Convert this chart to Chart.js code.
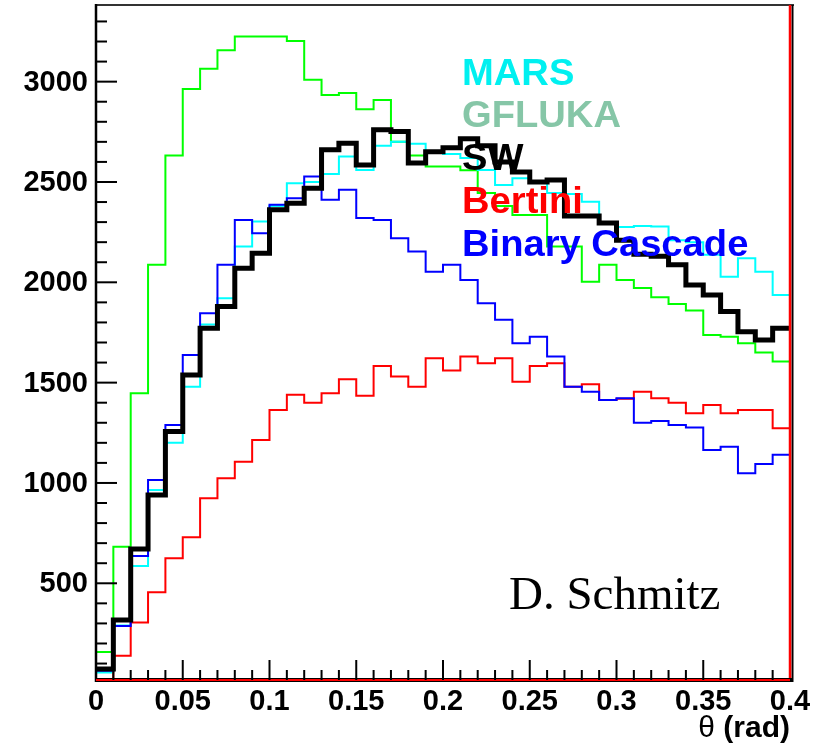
<!DOCTYPE html>
<html>
<head>
<meta charset="utf-8">
<script src="https://cdn.jsdelivr.net/npm/chart.js@4.4.1/dist/chart.umd.min.js"></script>
<style>
  html, body { margin: 0; padding: 0; background: #fff; }
</style>
</head>
<body>
<canvas id="theta" width="823" height="752"></canvas>
<script>
// bin low edges (rad), 40 bins of 0.01
var binLow = [0.00, 0.01, 0.02, 0.03, 0.04, 0.05, 0.06, 0.07, 0.08, 0.09,
              0.10, 0.11, 0.12, 0.13, 0.14, 0.15, 0.16, 0.17, 0.18, 0.19,
              0.20, 0.21, 0.22, 0.23, 0.24, 0.25, 0.26, 0.27, 0.28, 0.29,
              0.30, 0.31, 0.32, 0.33, 0.34, 0.35, 0.36, 0.37, 0.38, 0.39];
var binTop = 0.4;

var MARS = [55, 290, 586, 965, 1200, 1480, 1790, 1921, 2178, 2303,
            2380, 2494, 2500, 2540, 2627, 2560, 2680, 2701, 2690, 2650,
            2640, 2620, 2560, 2485, 2519, 2500, 2445, 2440, 2402, 2300,
            2275, 2281, 2278, 2210, 2200, 2137, 2028, 2120, 2053, 1937];

var GFLUKA = [157, 682, 1447, 2087, 2632, 2963, 3064, 3157, 3225, 3225,
              3225, 3203, 3009, 2934, 2943, 2863, 2909, 2701, 2632, 2577,
              2577, 2558, 2445, 2380, 2336, 2336, 2178, 2178, 2003, 2087,
              2012, 1971, 1926, 1892, 1859, 1738, 1729, 1696, 1650, 1605];

var SW = [73, 317, 671, 940, 1256, 1538, 1771, 1879, 2070, 2145,
          2361, 2394, 2469, 2660, 2693, 2585, 2760, 2751, 2594, 2651,
          2671, 2715, 2680, 2600, 2550, 2500, 2510, 2330, 2330, 2296,
          2210, 2140, 2130, 2087, 1987, 1937, 1854, 1754, 1713, 1771];

var Bertini = [20, 139, 305, 455, 625, 729, 924, 1023, 1106, 1214,
               1364, 1439, 1400, 1447, 1517, 1434, 1583, 1530, 1480, 1622,
               1560, 1630, 1597, 1622, 1505, 1583, 1597, 1480, 1492, 1414,
               1420, 1455, 1422, 1400, 1347, 1389, 1347, 1364, 1364, 1273];

var Binary = [64, 287, 636, 1015, 1289, 1638, 1846, 2087, 2311, 2245,
              2386, 2419, 2527, 2411, 2461, 2320, 2311, 2220, 2153, 2053,
              2087, 2012, 1896, 1813, 1696, 1729, 1630, 1480, 1455, 1414,
              1422, 1300, 1309, 1289, 1276, 1164, 1181, 1048, 1095, 1140];

var seriesNames = ['MARS', 'GFLUKA', 'SW', 'Bertini', 'Binary Cascade'];
var lineColors = ['#00ffff', '#00ff00', '#000000', '#ff0000', '#0000ff'];
var textColors = ['#00f0f0', '#86c6a7', '#000000', '#ff0000', '#0000ff'];

var yTicks = [500, 1000, 1500, 2000, 2500, 3000];
var xTicks = [0, 0.05, 0.1, 0.15, 0.2, 0.25, 0.3, 0.35, 0.4];
var xTickLabels = ['0', '0.05', '0.1', '0.15', '0.2', '0.25', '0.3', '0.35', '0.4'];

function histPoints(vals) {
    var pts = [];
    vals.forEach(function (v, i) {
        pts.push({x: binLow[i], y: v});
    });
    pts.push({x: binTop, y: vals[vals.length - 1]});
    return pts;
}

var rootFrame = {
    id: 'rootFrame',
    afterDatasetsDraw: function (chart) {
        var ctx = chart.ctx;
        var a = chart.chartArea;
        var xs = chart.scales.x;
        var ys = chart.scales.y;
        ctx.save();

        // legend texts inside the pad (a little wider than the font, like the original)
        ctx.save();
        ctx.translate(462, 0);
        ctx.scale(1.06, 1);
        ctx.font = 'bold 36px "Liberation Sans", Arial, sans-serif';
        ctx.textAlign = 'left';
        ctx.textBaseline = 'alphabetic';
        var legY = [85, 127, 170, 213, 256];
        chart.data.datasets.forEach(function (ds, i) {
            ctx.fillStyle = textColors[i];
            ctx.fillText(ds.label, 0, legY[i]);
        });
        ctx.restore();

        ctx.font = '47px "Liberation Serif", "Times New Roman", serif';
        ctx.fillStyle = '#000';
        ctx.fillText('D. Schmitz', 509, 609);

        // frame
        ctx.lineCap = 'butt';
        ctx.strokeStyle = '#333';
        ctx.lineWidth = 2;
        ctx.beginPath();
        ctx.moveTo(a.left, a.top);
        ctx.lineTo(a.right + 4, a.top);
        ctx.stroke();

        ctx.strokeStyle = '#000';
        ctx.lineWidth = 2;
        ctx.beginPath();
        ctx.moveTo(a.right + 2.5, a.top);
        ctx.lineTo(a.right + 2.5, a.bottom + 2);
        ctx.stroke();
        ctx.strokeStyle = '#ff0000';
        ctx.lineWidth = 2.5;
        ctx.beginPath();
        ctx.moveTo(a.right, a.top);
        ctx.lineTo(a.right, a.bottom);
        ctx.stroke();

        ctx.strokeStyle = '#000';
        ctx.lineWidth = 2.5;
        ctx.beginPath();
        ctx.moveTo(a.left, a.top - 1);
        ctx.lineTo(a.left, a.bottom + 2);
        ctx.stroke();

        ctx.lineWidth = 4;
        ctx.beginPath();
        ctx.moveTo(a.left, a.bottom);
        ctx.lineTo(a.right + 3, a.bottom);
        ctx.stroke();
        ctx.strokeStyle = '#ff0000';
        ctx.lineWidth = 2;
        ctx.beginPath();
        ctx.moveTo(a.left, a.bottom);
        ctx.lineTo(a.right, a.bottom);
        ctx.stroke();

        // ticks, drawn inward like ROOT
        ctx.strokeStyle = '#000';
        ctx.lineWidth = 2;
        var v, p;
        for (v = 100; v <= 3300; v += 100) {
            p = ys.getPixelForValue(v);
            var len = (v % 500 === 0) ? 21 : 11;
            ctx.beginPath();
            ctx.moveTo(a.left, p);
            ctx.lineTo(a.left + len, p);
            ctx.stroke();
        }
        for (var k = 1; k < 40; k++) {
            p = xs.getPixelForValue(k / 100);
            var xl = (k % 5 === 0) ? 20 : 10;
            ctx.beginPath();
            ctx.moveTo(p, a.bottom);
            ctx.lineTo(p, a.bottom - xl);
            ctx.stroke();
        }

        // tick labels
        ctx.fillStyle = '#000';
        ctx.font = 'bold 29px "Liberation Sans", Arial, sans-serif';
        ctx.textAlign = 'right';
        ctx.textBaseline = 'middle';
        yTicks.forEach(function (t) {
            ctx.fillText(String(t), a.left - 8, ys.getPixelForValue(t) + 1);
        });
        ctx.textAlign = 'center';
        ctx.textBaseline = 'top';
        xTicks.forEach(function (t, i) {
            ctx.fillText(xTickLabels[i], xs.getPixelForValue(t), a.bottom + 7);
        });

        // axis title
        ctx.textAlign = 'right';
        ctx.textBaseline = 'alphabetic';
        ctx.font = 'bold 30px "Liberation Sans", Arial, sans-serif';
        var rad = ' (rad)';
        ctx.fillText(rad, a.right, 737);
        var w = ctx.measureText(rad).width;
        ctx.font = '30px "Liberation Sans", Arial, sans-serif';
        ctx.fillText('\u03b8', a.right - w, 737);

        ctx.restore();
    }
};

var allSeries = [MARS, GFLUKA, SW, Bertini, Binary];
var drawOrder = [4, 5, 1, 3, 2];
var widths = [2, 2, 5, 2, 2];

var datasets = allSeries.map(function (vals, i) {
    return {
        label: seriesNames[i],
        data: histPoints(vals),
        borderColor: lineColors[i],
        borderWidth: widths[i],
        stepped: true,
        fill: false,
        pointRadius: 0,
        borderJoinStyle: 'miter',
        borderCapStyle: 'butt',
        order: drawOrder[i]
    };
});

var thetaChart = new Chart('theta', {
    type: 'line',
    data: { datasets: datasets },
    options: {
        responsive: false,
        animation: false,
        events: [],
        layout: { padding: { left: 96, right: 33, top: 5, bottom: 72 } },
        scales: {
            x: { type: 'linear', display: false, min: 0, max: 0.4 },
            y: { type: 'linear', display: false, min: 18, max: 3382 }
        },
        plugins: {
            legend: { display: false },
            tooltip: { enabled: false }
        }
    },
    plugins: [rootFrame]
});
</script>
</body>
</html>
